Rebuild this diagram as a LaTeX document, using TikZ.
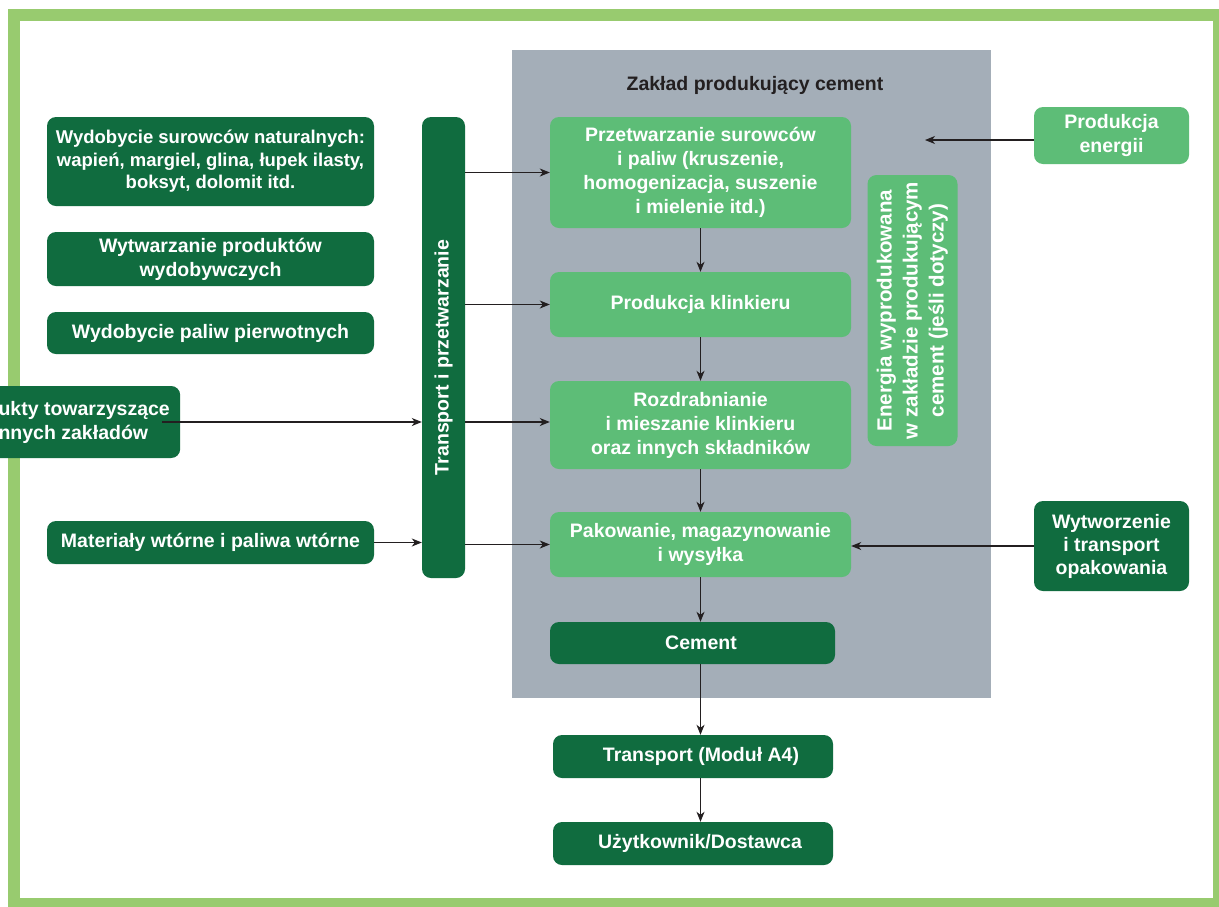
\documentclass[tikz,border=0pt]{standalone}
\usepackage{fontspec}
\setmainfont{Liberation Sans}
\usepackage{graphicx}
\usetikzlibrary{arrows.meta}
\definecolor{dkg}{HTML}{106C3F}
\definecolor{ltg}{HTML}{5DBD77}
\definecolor{frm}{HTML}{98CB6F}
\definecolor{gry}{HTML}{A4AEB8}
\definecolor{ink}{HTML}{231F20}
\begin{document}
\begin{tikzpicture}[x=1pt,y=-1pt,
  box/.style={rounded corners=9pt, text=white, font=\fontsize{19.5}{24}\selectfont\bfseries, align=center, inner sep=0pt},
  dbox/.style={box, fill=dkg},
  lbox/.style={box, fill=ltg},
  arr/.style={draw=ink, line width=1.1pt, -{Stealth[length=10pt,width=8pt,inset=3pt]}}]
\useasboundingbox (0,0) rectangle (1219,906);
\clip (0,0) rectangle (1219,906);
\fill[white] (0,0) rectangle (1219,906);
\draw[frm, line width=12pt] (14,14.5) rectangle (1219,904);
\fill[gry] (512,50) rectangle (991,698);
\node[font=\fontsize{19.5}{24}\selectfont\bfseries, text=ink] (ttl) at (755,85) {Zakład produkujący cement};

% left column
\node[dbox, minimum width=327pt, minimum height=89pt, font=\fontsize{18.5}{22.5}\selectfont\bfseries] (wyd) at (210.5,161.5) {Wydobycie surowców naturalnych:\\wapień, margiel, glina, łupek ilasty,\\boksyt, dolomit itd.};
\node[dbox, minimum width=327pt, minimum height=54pt] (wyt) at (210.5,259) {Wytwarzanie produktów\\wydobywczych};
\node[dbox, minimum width=327pt, minimum height=42pt] (pal) at (210.5,333) {Wydobycie paliw pierwotnych};
\node[dbox, minimum width=192pt, minimum height=72pt, align=left, anchor=west] (ptw) at (-12,422) {ukty towarzyszące\\nnych zakładów};
\node[dbox, minimum width=327pt, minimum height=43pt] (mat) at (210.5,542.5) {Materiały wtórne i paliwa wtórne};

% transport bar
\node[dbox, minimum width=43pt, minimum height=461pt] (bar) at (443.5,347.5) {\rotatebox{90}{Transport i przetwarzanie\hspace*{20pt}}};

% plant
\node[lbox, minimum width=301pt, minimum height=111pt] (prz) at (700.5,172.5) {Przetwarzanie surowców\\i paliw (kruszenie,\\homogenizacja, suszenie\\i mielenie itd.)};
\node[lbox, minimum width=301pt, minimum height=65pt] (kli) at (700.5,304.5) {Produkcja klinkieru};
\node[lbox, minimum width=301pt, minimum height=88pt] (roz) at (700.5,425) {Rozdrabnianie\\i mieszanie klinkieru\\oraz innych składników};
\node[lbox, minimum width=301pt, minimum height=65pt] (pak) at (700.5,544.5) {Pakowanie, magazynowanie\\i wysyłka};
\node[dbox, minimum width=285pt, minimum height=42pt] (cem) at (692.5,643) {\hspace*{17pt}Cement};
\node[lbox, minimum width=90pt, minimum height=271pt, font=\fontsize{20.5}{26}\selectfont\bfseries] (ene) at (912.5,310.5) {\rotatebox{90}{\begin{tabular}{@{}c@{}}Energia wyprodukowana\\w zakładzie produkującym\\cement (jeśli dotyczy)\end{tabular}}};

% right
\node[lbox, minimum width=155pt, minimum height=57pt] (pen) at (1111.5,135.5) {Produkcja\\energii};
\node[dbox, minimum width=155pt, minimum height=90pt, font=\fontsize{19.5}{23}\selectfont\bfseries] (opk) at (1111.5,546) {Wytworzenie\\i transport\\opakowania};

% bottom
\node[dbox, minimum width=280pt, minimum height=43pt] (tra) at (693,756.5) {\hspace*{16pt}Transport (Moduł A4)};
\node[dbox, minimum width=280pt, minimum height=43pt] (uzy) at (693,843.5) {\hspace*{14pt}Użytkownik/Dostawca};

\coordinate (pe) at (925,140);

% connectors
\draw[arr] ([xshift=-18pt]ptw.east) -- (ptw.east -| bar.west);
\draw[arr] (mat.east) -- (mat.east -| bar.west);
\draw[arr] (bar.east |- prz.west) -- (prz.west);
\draw[arr] (bar.east |- kli.west) -- (kli.west);
\draw[arr] (bar.east |- ptw.east) -- (roz.west |- ptw.east);
\draw[arr] (bar.east |- pak.west) -- (pak.west);
\draw[arr] (prz.south) -- (kli.north);
\draw[arr] (kli.south) -- (roz.north);
\draw[arr] (roz.south) -- (pak.north);
\draw[arr] (pak.south) -- (pak.south |- cem.north);
\draw[arr] (pak.south |- cem.south) -- (pak.south |- tra.north);
\draw[arr] (pak.south |- tra.south) -- (pak.south |- uzy.north);
\draw[arr] (pen.west |- pe) -- (pe);
\draw[arr] (opk.west) -- (opk.west -| pak.east);
\end{tikzpicture}
\end{document}
